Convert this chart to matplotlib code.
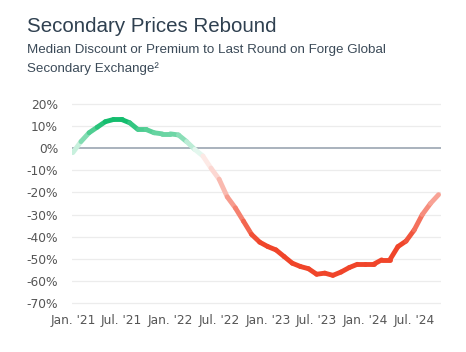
import matplotlib
matplotlib.use("Agg")
import matplotlib.pyplot as plt
import numpy as np
from matplotlib.collections import LineCollection
from matplotlib.colors import to_rgb

# Monthly data, Jan 2021 (month 0) .. Oct 2024 (month 45)
months = list(range(46))
values = [-2, 3, 7, 9.5, 12, 13, 13, 11.5, 8.5, 8.5,
          7, 6.5, 6.5, 6, 3, -0.5, -3.5, -9, -14, -22,
          -27, -33, -39, -42.5, -44.5, -46, -49, -52, -53.5, -54.5,
          -57, -56.5, -57.5, -56, -54, -52.5, -52.5, -52.5, -50.5, -50.5,
          -44.5, -42, -37, -30, -25, -21]
tick_months = [0, 6, 12, 18, 24, 30, 36, 42]
tick_labels = ["Jan. '21", "Jul. '21", "Jan. '22", "Jul. '22",
               "Jan. '23", "Jul. '23", "Jan. '24", "Jul. '24"]
y_ticks = [20, 10, 0, -10, -20, -30, -40, -50, -60, -70]

title = "Secondary Prices Rebound"
subtitle_1 = "Median Discount or Premium to Last Round on Forge Global"
subtitle_2 = "Secondary Exchange²"

GREEN = np.array(to_rgb("#14bd6e"))
RED = np.array(to_rgb("#f0452a"))
WHITE = np.array([1.0, 1.0, 1.0])
PIVOT = -3.0


def seg_color(v):
    if v >= PIVOT:
        a = np.clip((v - PIVOT) / 15.0, 0.12, 1.0)
        base = GREEN
    else:
        a = np.clip((PIVOT - v) / 40.0, 0.12, 1.0)
        base = RED
    return WHITE * (1 - a) + base * a


fig = plt.figure(figsize=(4.66, 3.52), dpi=100)
fig.patch.set_facecolor("white")

ax = fig.add_axes([72 / 466, 1 - 305.2 / 352, 369 / 466, 203.4 / 352])
ax.set_xlim(-0.1, 45.3)
ax.set_ylim(-71, 21)

for s in ax.spines.values():
    s.set_visible(False)

for yt in y_ticks:
    if yt == 0:
        ax.axhline(0, color="#a3adb8", lw=1.3, zorder=1)
    else:
        ax.axhline(yt, color="#ececec", lw=0.9, zorder=0)

x = np.array(months, dtype=float)
y = np.array(values, dtype=float)
pts = np.column_stack([x, y]).reshape(-1, 1, 2)
segs = np.concatenate([pts[:-1], pts[1:]], axis=1)
cols = [seg_color((values[i] + values[i + 1]) / 2) for i in range(len(values) - 1)]
lc = LineCollection(segs, colors=cols, linewidths=3.5, capstyle="round",
                    joinstyle="round", zorder=3)
ax.add_collection(lc)

ax.set_yticks(y_ticks)
ax.set_yticklabels([f"{v}%" for v in y_ticks])
ax.set_xticks(tick_months)
ax.set_xticklabels(tick_labels)
ax.tick_params(axis="both", length=0, labelsize=8.8, labelcolor="#555555")
ax.tick_params(axis="y", pad=10)
ax.tick_params(axis="x", pad=6)

fig.text(27 / 466, 1 - 32 / 352, title, fontsize=14.8, color="#2f4050",
         family="Liberation Sans", va="baseline", ha="left")
fig.text(27 / 466, 1 - 53 / 352, subtitle_1, fontsize=9.6, color="#3b4a58",
         family="Liberation Sans", va="baseline", ha="left")
fig.text(27 / 466, 1 - 72 / 352, subtitle_2, fontsize=9.6, color="#3b4a58",
         family="Liberation Sans", va="baseline", ha="left")

fig.savefig("out.png", dpi=100)
